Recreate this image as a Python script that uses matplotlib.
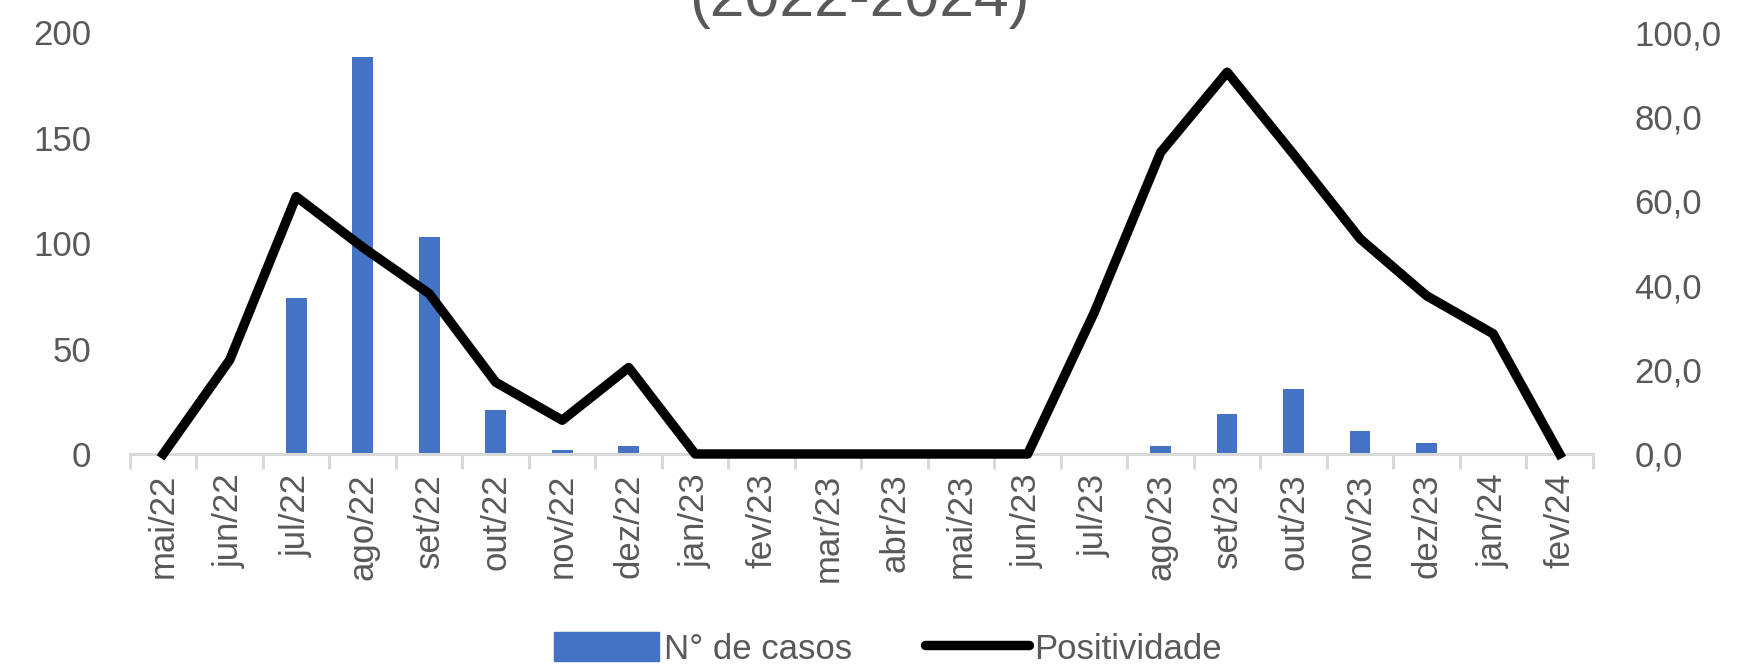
import matplotlib
matplotlib.use("Agg")
import matplotlib.pyplot as plt
from matplotlib.patches import Patch
from matplotlib.lines import Line2D
from matplotlib.ticker import FuncFormatter

plt.rcParams['font.family'] = ['Liberation Sans Narrow', 'Liberation Sans', 'DejaVu Sans']

months = ["mai/22", "jun/22", "jul/22", "ago/22", "set/22", "out/22", "nov/22", "dez/22",
          "jan/23", "fev/23", "mar/23", "abr/23", "mai/23", "jun/23", "jul/23", "ago/23",
          "set/23", "out/23", "nov/23", "dez/23", "jan/24", "fev/24"]
casos = [0, 0, 74, 188, 103, 21, 2, 4, 0, 0, 0, 0, 0, 0, 0, 4, 19, 31, 11, 5, 0, 0]
positividade = [0.0, 22.3, 61.0, 49.0, 38.0, 17.0, 8.0, 20.5, 0.0, 0.0, 0.0, 0.0, 0.0, 0.0,
                33.5, 71.5, 90.5, 71.0, 51.0, 37.5, 28.5, 0.0]
title = "(2022-2024)"

gray = "#595959"
axis_gray = "#d9d9d9"
blue = "#4472C4"
fs = 25

fig = plt.figure(figsize=(17.38, 6.69), dpi=100)
ax = fig.add_axes([0.0748, 0.3214, 0.9165 - 0.0748, 0.952 - 0.3214])
x = list(range(len(months)))
ax.bar(x, casos, width=0.31, color=blue, zorder=2)
ax.set_xlim(-0.5, len(months) - 0.5)
ax.set_ylim(0, 200)
ax.set_yticks([0, 50, 100, 150, 200])
ax.set_xticks(x)
ax.set_xticklabels(months, rotation=90, fontsize=fs, color=gray)
ax.set_xticks([i - 0.5 for i in range(len(months) + 1)], minor=True)
ax.tick_params(axis='x', which='major', length=0, pad=14)
ax.tick_params(axis='x', which='minor', length=11, width=2.2, color=axis_gray, direction='out')
ax.tick_params(axis='y', length=0, labelsize=fs, labelcolor=gray, pad=28)
for s in ['top', 'left', 'right']:
    ax.spines[s].set_visible(False)
ax.spines['bottom'].set_color(axis_gray)
ax.spines['bottom'].set_linewidth(2.2)

ax2 = ax.twinx()
ax2.plot(x, positividade, color='black', linewidth=6.8, clip_on=False, zorder=3)
ax2.set_ylim(0, 100)
ax2.set_yticks([0, 20, 40, 60, 80, 100])
ax2.yaxis.set_major_formatter(FuncFormatter(lambda v, p: f"{v:.1f}".replace('.', ',')))
ax2.tick_params(axis='y', length=0, labelsize=fs, labelcolor=gray, pad=30)
for s in ['top', 'left', 'right', 'bottom']:
    ax2.spines[s].set_visible(False)

fig.text(0.4945, 1 - 16 / 669, title, ha='center', va='baseline', fontsize=45, color=gray)

handles = [Patch(facecolor=blue, edgecolor=blue),
           Line2D([0], [0], color='black', linewidth=6.8, solid_capstyle='round')]
leg = fig.legend(handles, ["N° de casos", "Positividade"], loc='center',
                 bbox_to_anchor=(0.511, 0.03), ncol=2, frameon=False, fontsize=fs,
                 handlelength=3.0, handleheight=0.9, handletextpad=0.15, columnspacing=2.1)
for t in leg.get_texts():
    t.set_color(gray)

fig.savefig("out.png", dpi=100)
